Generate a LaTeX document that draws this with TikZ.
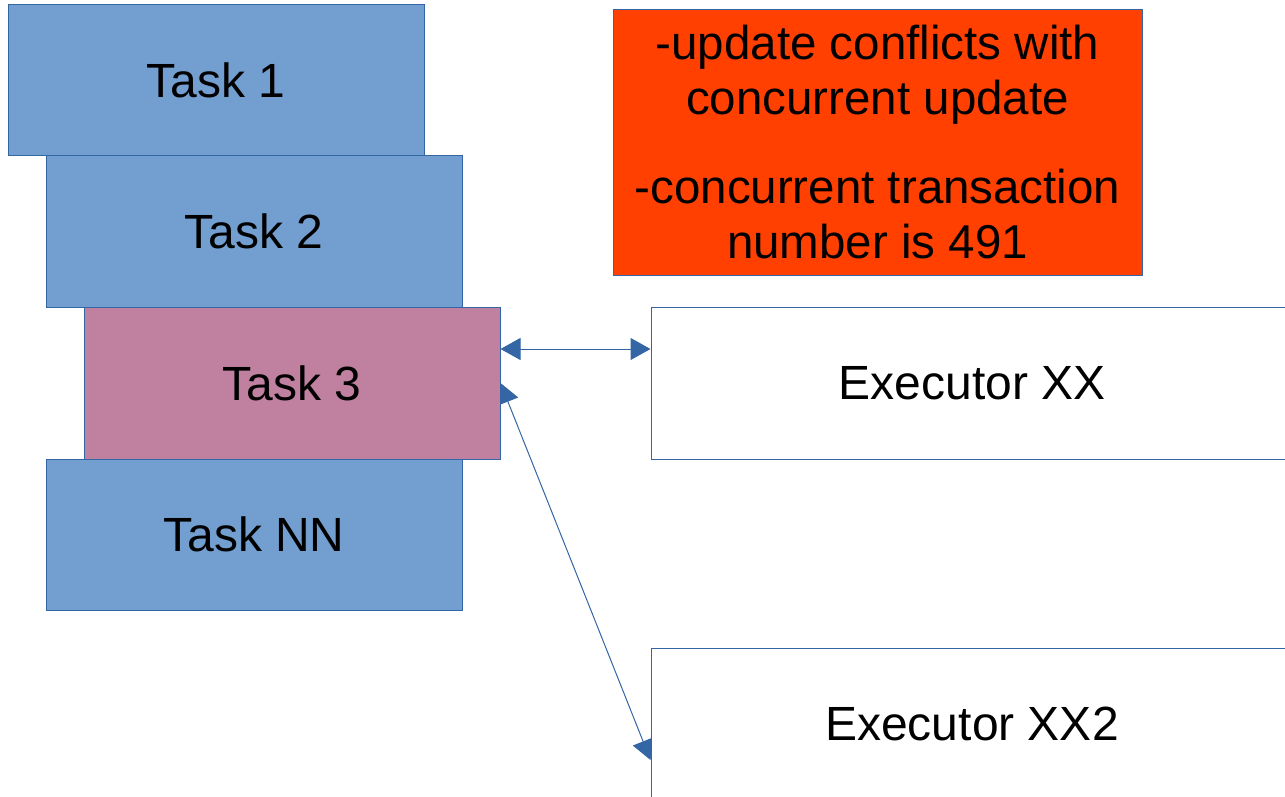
\documentclass[tikz,border=0pt]{standalone}
\usepackage{fontspec}
\setmainfont{Liberation Sans}
\usepackage{tikz}
\usetikzlibrary{positioning,arrows.meta,backgrounds}
\usepackage{xcolor}
\definecolor{taskblue}{HTML}{729FCF}
\definecolor{lineblue}{HTML}{3465A4}
\definecolor{taskpink}{HTML}{C0809F}
\definecolor{warnred}{HTML}{FF4000}

\begin{document}
\begin{tikzpicture}[x=1pt,y=-1pt,
        % define styles
        task/.style={
             draw=lineblue,
             fill=taskblue,
             line width=1pt,
             inner sep=0pt,
             minimum width=416pt,
             minimum height=151pt,
             font=\fontsize{48}{58}\selectfont
        },
        executor/.style={
             draw=lineblue,
             fill=white,
             line width=1pt,
             inner sep=0pt,
             minimum width=642pt,
             minimum height=152pt,
             font=\fontsize{48}{58}\selectfont
        },
        link/.style={
             draw=lineblue,
             line width=1pt,
             {Triangle[length=20pt,width=22pt]}-{Triangle[length=20pt,width=22pt]}
        }
    ]
        \clip (0,0) rectangle (1285,797);

        % stack of tasks
        \node[task] at (216,80.5) (t1) {Task 1};
        \node[task] at (254,231.5) (t2) {Task 2};
        \node[task,fill=taskpink,minimum height=152pt] at (292,383) (t3) {Task 3};
        \node[task] at (254,534.5) (tnn) {Task NN};

        % error message
        \node[draw=lineblue,fill=warnred,line width=1pt,inner sep=0pt,
              minimum width=529pt,minimum height=265pt,align=center,
              font=\fontsize{47.5}{55}\selectfont] at (877.5,142.5) (msg)
              {-update conflicts with\\concurrent update\\[34pt]-concurrent transaction\\number is 491};

        % executors
        \node[executor] at (972,383) (ex1) {Executor XX};
        \node[executor] at (972,724) (ex2) {Executor XX2};

        \draw[link] ([yshift=34pt]t3.east) -- ([yshift=34pt]ex1.west);
        \begin{scope}[on background layer]
        \draw[link] (t3.east) -- ([yshift=-36pt]ex2.west);
        \end{scope}
    \end{tikzpicture}
\end{document}
